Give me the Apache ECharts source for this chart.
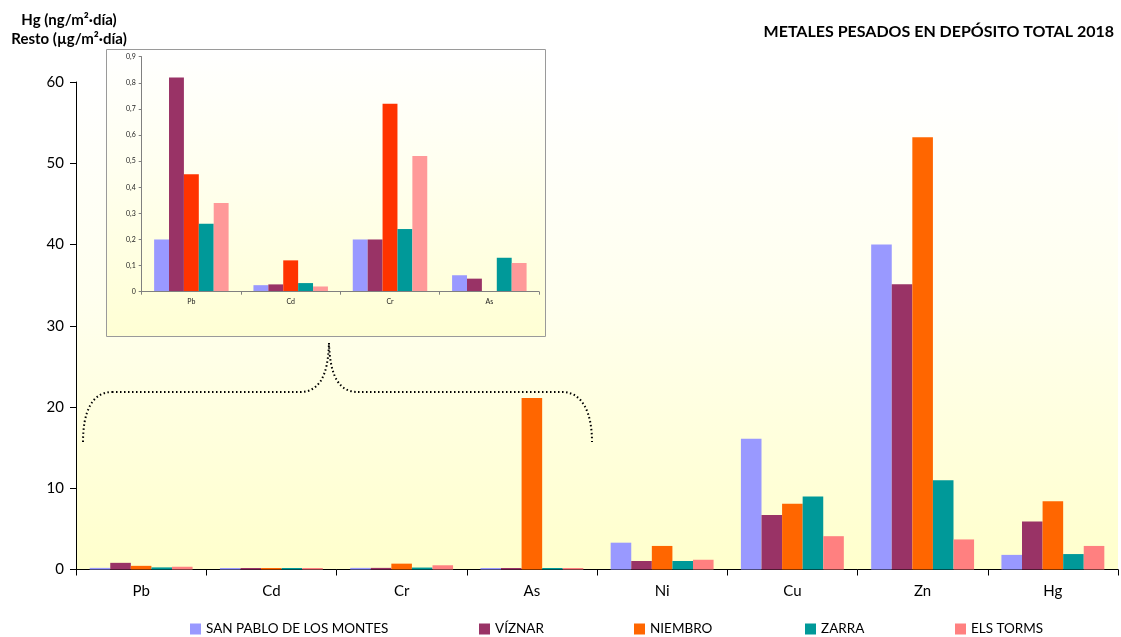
<!DOCTYPE html>
<html>
<head>
<meta charset="utf-8">
<script src="https://cdn.jsdelivr.net/npm/echarts@6/dist/echarts.min.js"></script>
<style>html,body{margin:0;padding:0;background:#fff}#c{width:1121px;height:637px}</style>
</head>
<body>
<div id="c"></div>
<script>
const categories = ['Pb','Cd','Cr','As','Ni','Cu','Zn','Hg'];
const seriesNames = ['SAN PABLO DE LOS MONTES','VÍZNAR','NIEMBRO','ZARRA','ELS TORMS'];
const sanPablo = [0.2, 0.025, 0.2, 0.063, 3.3, 16.1, 40.0, 1.8];
const viznar   = [0.82, 0.028, 0.2, 0.05, 1.05, 6.7, 35.1, 5.9];
const niembro  = [0.45, 0.12, 0.72, 21.1, 2.9, 8.1, 53.2, 8.4];
const zarra    = [0.26, 0.033, 0.24, 0.13, 1.05, 9.0, 11.0, 1.9];
const elsTorms = [0.34, 0.02, 0.52, 0.11, 1.2, 4.1, 3.7, 2.9];
const insetCount = 4;              // Pb, Cd, Cr, As zoomed in the inset
const yTicksMain = [0, 60, 10];    // min, max, interval
const yTicksInset = [0, 0.9, 0.1];
const mainColors  = ['#9999FF','#993366','#FF6600','#009999','#FF8080'];
const insetColors = ['#9999FF','#993366','#FF3300','#009999','#FF9999'];

const allData = [sanPablo, viznar, niembro, zarra, elsTorms];
const font = 'Lato, "Liberation Sans", sans-serif';

const series = [];
allData.forEach((d, i) => {
  series.push({
    name: seriesNames[i], type: 'bar', data: d, xAxisIndex: 0, yAxisIndex: 0,
    itemStyle: { color: mainColors[i] }, barGap: '0%', barCategoryGap: '21%', z: 2,
    barMinHeight: 1.5
  });
});
allData.forEach((d, i) => {
  series.push({
    name: seriesNames[i] + ' (detalle)', type: 'bar',
    data: d.slice(0, insetCount).map(v => v > yTicksInset[1] ? '-' : v),
    xAxisIndex: 1, yAxisIndex: 1,
    itemStyle: { color: insetColors[i] }, barGap: '0%', barCategoryGap: '25%', z: 5
  });
});

const legendLefts = [190, 479, 634, 805, 955];
const legends = seriesNames.map((n, i) => ({
  data: [n], left: legendLefts[i], top: 622, padding: 0, itemWidth: 11, itemHeight: 11, itemGap: 4,
  icon: 'rect', textStyle: { fontFamily: font, fontSize: 13.5, color: '#000' },
  selectedMode: false
}));

const dot = { fill: 'none', stroke: '#000', lineWidth: 2, lineDash: [1.5, 2.5] };
const brace = [
  { type: 'bezierCurve', shape: { x1: 83, y1: 442, cpx1: 83, cpy1: 412, cpx2: 92, cpy2: 392, x2: 112, y2: 392 } },
  { type: 'line', shape: { x1: 112, y1: 392, x2: 300, y2: 392 } },
  { type: 'bezierCurve', shape: { x1: 300, y1: 392, cpx1: 318, cpy1: 392, cpx2: 328, cpy2: 378, x2: 329, y2: 343 } },
  { type: 'bezierCurve', shape: { x1: 329, y1: 343, cpx1: 330, cpy1: 378, cpx2: 340, cpy2: 392, x2: 358, y2: 392 } },
  { type: 'line', shape: { x1: 358, y1: 392, x2: 562, y2: 392 } },
  { type: 'bezierCurve', shape: { x1: 562, y1: 392, cpx1: 582, cpy1: 392, cpx2: 592, cpy2: 412, x2: 592, y2: 442 } }
].map(e => Object.assign(e, { z: 4, style: dot }));

const chart = echarts.init(document.getElementById('c'), null, { renderer: 'canvas' });
chart.setOption({
  animation: false,
  backgroundColor: '#fff',
  title: [
    { text: 'METALES PESADOS EN DEPÓSITO TOTAL 2018', right: 2, top: 19,
      textStyle: { fontFamily: font, fontSize: 16, fontWeight: 'bold', color: '#000' } },
    { text: 'Hg (ng/m²·día)\nResto (µg/m²·día)', left: 64, top: 6, textAlign: 'center',
      textStyle: { fontFamily: font, fontSize: 15, fontWeight: 'bold', color: '#000', lineHeight: 19 } }
  ],
  legend: legends,
  grid: [
    { left: 76, right: 3, top: 82, bottom: 67.5, show: true, borderWidth: 0,
      backgroundColor: new echarts.graphic.LinearGradient(0, 0, 0, 1,
        [{ offset: 0, color: '#FFFFFF' }, { offset: 0.45, color: '#FFFFEE' }, { offset: 1, color: '#FFFFCC' }]) },
    { left: 141.7, right: 582, top: 56.7, bottom: 345.3, show: false }
  ],
  graphic: [
    { type: 'rect', z: 3, shape: { x: 106.5, y: 49.5, width: 439, height: 287 },
      style: { stroke: '#9a9a9a', lineWidth: 1,
        fill: new echarts.graphic.LinearGradient(0, 0, 0, 1,
          [{ offset: 0, color: '#FFFFFF' }, { offset: 0.4, color: '#FFFFF0' }, { offset: 1, color: '#FFFFD4' }]) } }
  ].concat(brace),
  xAxis: [
    { type: 'category', data: categories, gridIndex: 0,
      axisLine: { lineStyle: { color: '#000', width: 1 } },
      axisTick: { show: true, length: 6, lineStyle: { color: '#000' } },
      axisLabel: { fontFamily: font, fontSize: 15, color: '#000', margin: 14 } },
    { type: 'category', data: categories.slice(0, insetCount), gridIndex: 1, z: 6,
      axisLine: { lineStyle: { color: '#808080', width: 1 } },
      axisTick: { show: true, length: 3, lineStyle: { color: '#808080' } },
      axisLabel: { fontFamily: font, fontSize: 7, color: '#222', margin: 7 } }
  ],
  yAxis: [
    { type: 'value', gridIndex: 0, min: yTicksMain[0], max: yTicksMain[1], interval: yTicksMain[2],
      axisLine: { show: true, lineStyle: { color: '#000', width: 1 } },
      axisTick: { show: true, length: 6, lineStyle: { color: '#000' } },
      splitLine: { show: false },
      axisLabel: { fontFamily: font, fontSize: 15, color: '#000', margin: 12 } },
    { type: 'value', gridIndex: 1, z: 6, min: yTicksInset[0], max: yTicksInset[1], interval: yTicksInset[2],
      axisLine: { show: true, lineStyle: { color: '#808080', width: 1 } },
      axisTick: { show: true, length: 3, lineStyle: { color: '#808080' } },
      splitLine: { show: false },
      axisLabel: { fontFamily: font, fontSize: 7, color: '#222', margin: 6,
        formatter: v => String(Math.round(v * 10) / 10).replace('.', ',') } }
  ],
  series: series
});
</script>
</body>
</html>
